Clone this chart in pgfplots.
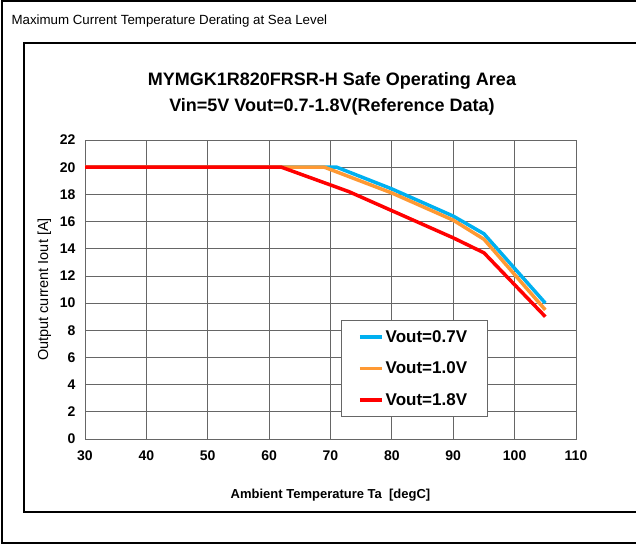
\documentclass[border=0pt]{standalone}
\usepackage{fontspec}
\setmainfont{Liberation Sans}
\usepackage{pgfplots}
\pgfplotsset{compat=1.18}
\definecolor{cblue}{RGB}{0,176,240}
\definecolor{corange}{RGB}{255,153,51}
\definecolor{cred}{RGB}{255,0,0}
\begin{document}
\begin{tikzpicture}
\path[use as bounding box] (0pt,0pt) rectangle (636pt,544pt);
% outer frame
\draw[line width=1.5pt] (636pt,543pt) -- (2pt,543pt) -- (2pt,1pt) -- (636pt,1pt);
% inner frame
\draw[line width=1.2pt] (636pt,501pt) -- (24pt,501pt) -- (24pt,32pt) -- (636pt,32pt);
\node[anchor=west,font=\fontsize{13.3}{16}\selectfont] at (8pt,523pt) {Maximum Current Temperature Derating at Sea Level};
\node[align=center,font=\bfseries\fontsize{18}{26}\selectfont] at (332pt,450pt) {MYMGK1R820FRSR-H Safe Operating Area\\Vin=5V Vout=0.7-1.8V(Reference Data)};
\begin{axis}[
  at={(85pt,105pt)}, anchor=south west,
  width=491pt, height=299pt, scale only axis,
  xmin=30, xmax=110, ymin=0, ymax=22,
  xtick={30,40,...,110}, ytick={0,2,...,22},
  grid=major,
  major grid style={gray!80!black, line width=0.8pt},
  axis line style={gray!80!black, line width=0.8pt},
  tick style={draw=none},
  ticklabel style={font=\bfseries\fontsize{14}{16}\selectfont},
  xticklabel style={yshift=-8pt},
  yticklabel style={xshift=-6pt},
  /pgf/number format/assume math mode=true,
  xlabel={\bfseries Ambient Temperature Ta\ \ [degC]},
  ylabel={Output current Iout [A]},
  xlabel style={font=\fontsize{13}{16}\selectfont, yshift=-22pt},
  ylabel style={font=\fontsize{14.5}{16}\selectfont, yshift=2pt},
  legend style={at={(0.521,0.398)}, anchor=north west, draw=gray!80!black,
    font=\bfseries\fontsize{17}{19}\selectfont, row sep=14pt,
    inner xsep=17pt, inner ysep=8pt, line width=0.8pt},
  legend cell align=left,
  legend image code/.code={\draw[#1, line width=3.5pt] (0pt,0pt) -- (22pt,0pt);},
]
\addplot[cblue, line width=3.5pt] coordinates {(30,20) (71,20) (80,18.4) (90,16.4) (95,15.1) (105,10)};
\addlegendentry{Vout=0.7V\hspace*{1pt}}
\addplot[corange, line width=3.5pt] coordinates {(30,20) (69,20) (80,18.1) (90,16.1) (95,14.7) (105,9.5)};
\addlegendentry{Vout=1.0V\hspace*{1pt}}
\addplot[cred, line width=3.5pt] coordinates {(30,20) (62,20) (73,18.2) (80,16.8) (90,14.8) (95,13.7) (105,9)};
\addlegendentry{Vout=1.8V\hspace*{1pt}}
\end{axis}
\end{tikzpicture}
\end{document}
